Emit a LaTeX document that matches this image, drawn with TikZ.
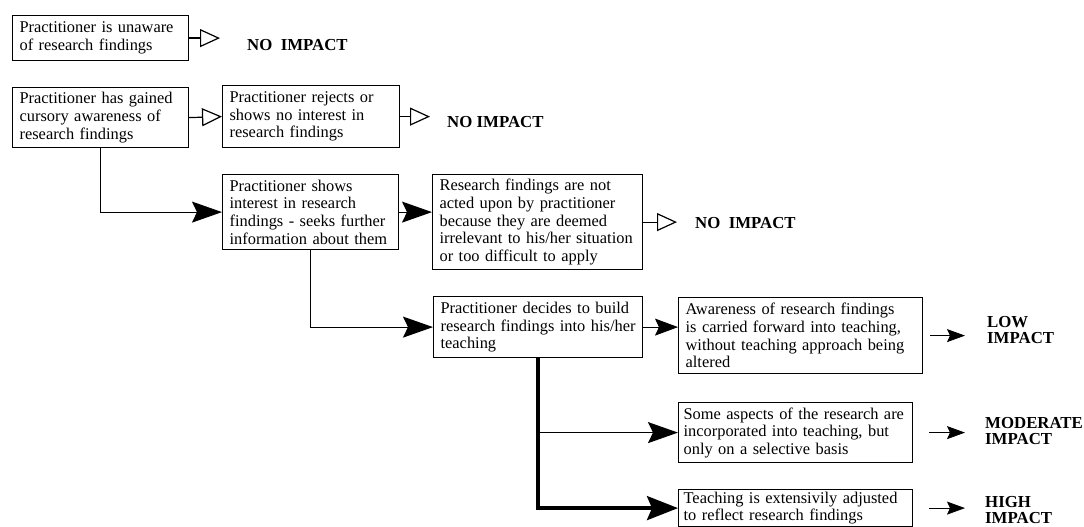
\documentclass[tikz,border=0pt]{standalone}
\usepackage{fontspec}
\setmainfont{Liberation Serif}
\usetikzlibrary{arrows.meta}

\begin{document}
\begin{tikzpicture}[x=1pt, y=-1pt,
    box/.style={rectangle, draw=black, line width=1.2pt, anchor=north west, align=left, inner xsep=7pt, inner ysep=1pt, font={\fontsize{16.4pt}{17.6pt}\selectfont}},
    impact/.style={anchor=west, align=left, inner sep=0pt, font={\fontsize{16.8pt}{16.5pt}\selectfont\bfseries}},
    hollow/.style={-{Triangle[open, length=20pt, width=18pt]}, line width=1.2pt},
    lead/.style={-{Stealth[length=30pt, width=21pt, inset=5pt]}, line width=1.2pt},
    result/.style={-{Stealth[length=18pt, width=13pt, inset=3pt]}, line width=0.8pt}]
\useasboundingbox (0,0) rectangle (1084,527);

% Осведомлённость
\node (unaware) [box, text width=162pt, minimum height=45pt] at (12,15) {Practitioner is unaware\\of research findings};
\node (cursory) [box, text width=162pt, minimum height=60pt] at (12,87) {Practitioner has gained\\cursory awareness of\\research findings};
\node (rejects) [box, text width=163pt, minimum height=62pt] at (222,85) {Practitioner rejects or\\shows no interest in\\research findings};

% Интерес
\node (interest) [box, text width=162pt, minimum height=75pt] at (222,174) {Practitioner shows\\interest in research\\findings - seeks further\\information about them};
\node (notacted) [box, text width=196pt, minimum height=95pt] at (432,174) {Research findings are not\\acted upon by practitioner\\because they are deemed\\irrelevant to his/her situation\\or too difficult to apply};

% Решение
\node (decides) [box, text width=195pt, minimum height=61pt] at (433,296) {Practitioner decides to build\\research findings into his/her\\teaching};
\node (carried) [box, text width=230pt, minimum height=76pt] at (678,297) {Awareness of research findings\\is carried forward into teaching,\\without teaching approach being\\altered};
\node (selective) [box, inner xsep=5pt, text width=224pt, minimum height=60pt] at (678,402) {Some aspects of the research are\\incorporated into teaching, but\\only on a selective basis};
\node (adjusted) [box, inner xsep=5pt, text width=224pt, minimum height=37pt] at (678,489) {Teaching is extensivily adjusted\\to reflect research findings};

% Итог
\node (none1) [impact] at (247,45) {NO~~IMPACT};
\node (none2) [impact] at (447,122) {NO IMPACT};
\node (none3) [impact] at (695,223) {NO~~IMPACT};
\node (low) [impact] at (987,330) {LOW\\IMPACT};
\node (moderate) [impact] at (985,431) {MODERATE\\IMPACT};
\node (high) [impact] at (985,510) {HIGH\\IMPACT};

% Связи
\draw[hollow, shorten >=27pt] (unaware.east) -- (unaware.east -| none1.west);
\draw[hollow] (cursory.east) -- (rejects.west);
\draw[hollow, shorten >=17pt] (rejects.east) -- (rejects.east -| none2.west);
\draw[hollow, shorten >=18pt] (notacted.east) -- (notacted.east -| none3.west);
\draw[lead] (cursory.south) |- (interest.west);
\draw[lead] (interest.east) -- (interest.east -| notacted.west);
\draw[lead] (interest.south) |- (decides.west);
\draw[-{Stealth[length=23pt, width=17pt, inset=4pt]}, line width=0.8pt] (decides.east) -- (decides.east -| carried.west);
\draw[-{Stealth[length=31pt, width=24pt, inset=5pt]}, line width=3.5pt] (decides.south) |- (adjusted.west);
\draw[lead, line width=1.6pt] (decides.south |- selective.west) -- (selective.west);
\draw[result, shorten <=7pt, shorten >=22pt] (carried.east) -- (carried.east -| low.west);
\draw[result, shorten <=16pt, shorten >=20pt] (selective.east) -- (selective.east -| moderate.west);
\draw[result, shorten <=16pt, shorten >=20pt] (adjusted.east) -- (adjusted.east -| high.west);

\end{tikzpicture}
\end{document}
